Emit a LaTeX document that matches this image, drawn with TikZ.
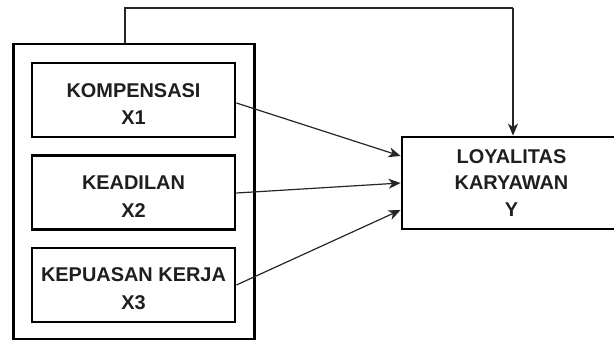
\documentclass[tikz,border=0pt]{standalone}
\usepackage{fontspec}
\setmainfont{Liberation Sans}
\usetikzlibrary{arrows.meta}
\newcommand{\toppad}{\rule{0pt}{22bp}}
\begin{document}
\begin{tikzpicture}[x=1bp,y=-1bp,
  box/.style={draw=black, line width=2.8bp, fill=white, inner sep=0pt,
    align=center, font=\fontsize{20}{28}\selectfont\bfseries, text=black!88},
  conn/.style={line width=1.2bp, draw=black!85, -{Stealth[length=12bp,width=10bp,inset=3.5bp]}},
  plain/.style={line width=1.2bp, draw=black!85}]
\useasboundingbox (0,0) rectangle (614,341);
\clip (0,0) rectangle (614,341);
\node[box, minimum width=241bp, minimum height=295bp] (outer) at (134,191.5) {};
\node[box, minimum width=203bp, minimum height=74bp] (x1) at (133.5,100) {\toppad KOMPENSASI\\X1};
\node[box, minimum width=203bp, minimum height=74bp] (x2) at (133.5,192.5) {\toppad KEADILAN\\X2};
\node[box, minimum width=203bp, minimum height=74bp] (x3) at (133.5,285) {\toppad KEPUASAN KERJA\\X3};
\node[box, minimum width=230bp, minimum height=92bp, text width=222bp, font=\fontsize{20}{27}\selectfont\bfseries] (y) at (517,183) {\hspace*{-11bp}LOYALITAS\\\hspace*{-11bp}KARYAWAN\\\hspace*{-11bp}Y};
\coordinate (c1) at (125,8);
\coordinate (c2) at (513,8);
\draw[plain] (outer.north -| c1) -- (c1) -- (c2);
\draw[conn] (c2) -- (y.north -| c2);
\draw[conn] (x1.east |- 0,103) -- (y.west |- 0,156);
\draw[conn] (x2.east |- 0,193) -- (y.west |- 0,183);
\draw[conn] (x3.east |- 0,285) -- (y.west |- 0,210);
\end{tikzpicture}
\end{document}
